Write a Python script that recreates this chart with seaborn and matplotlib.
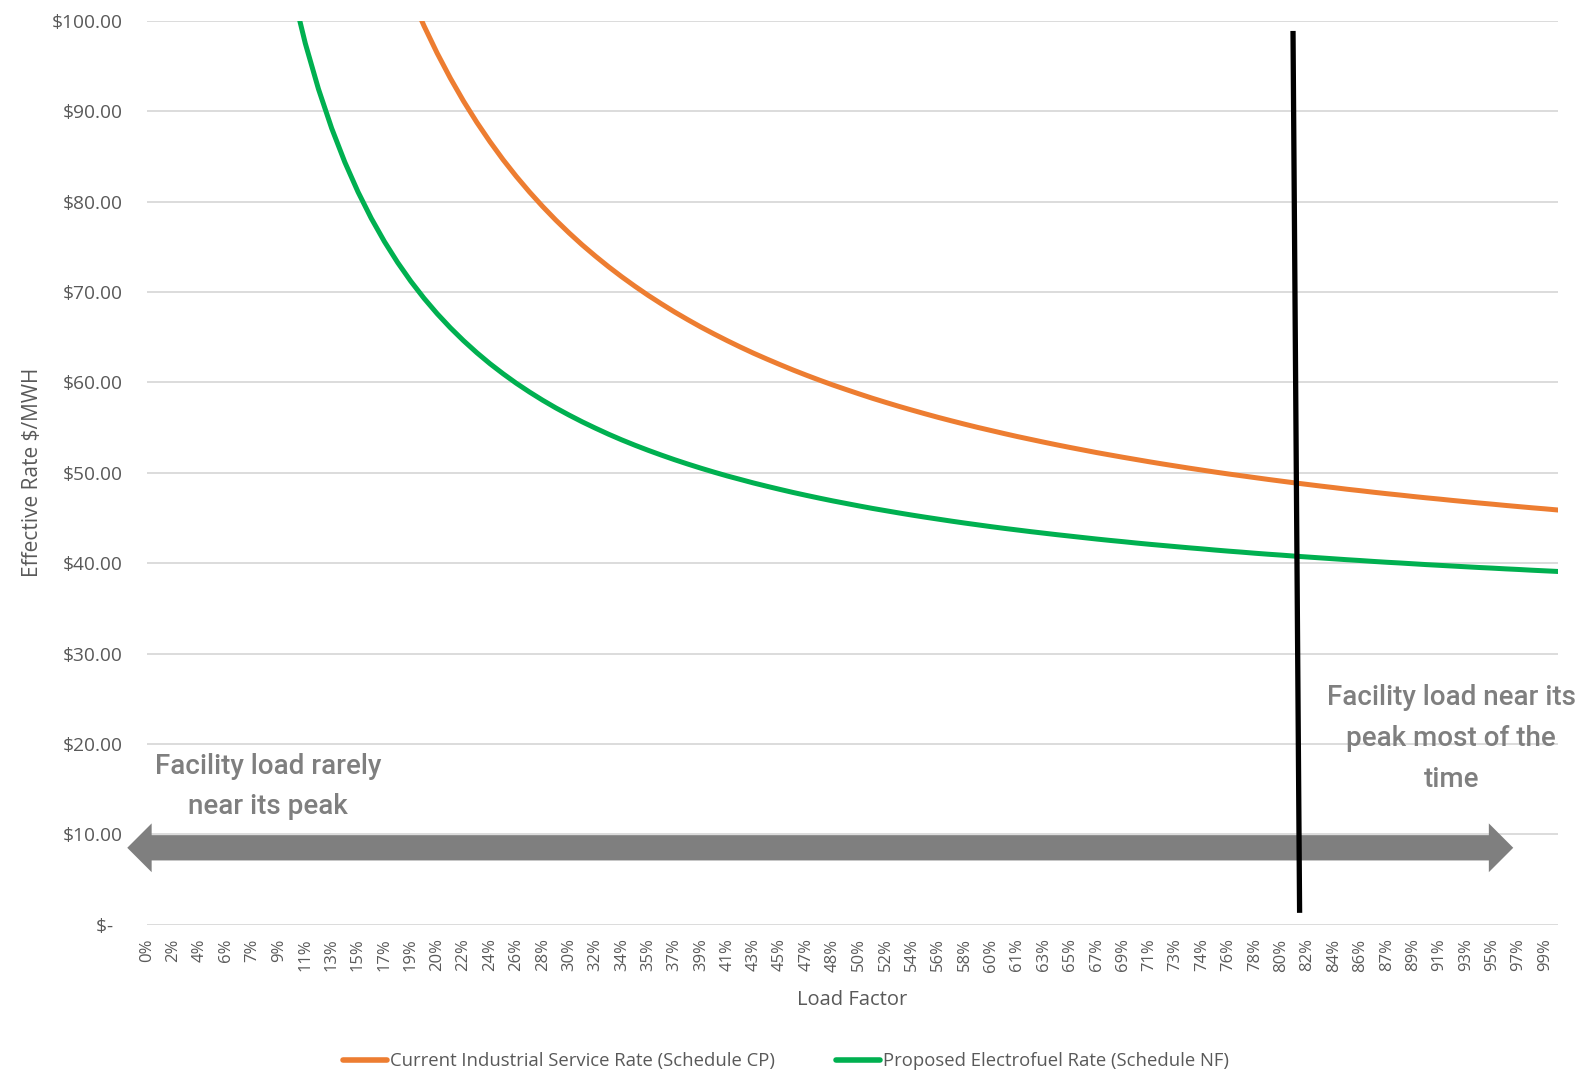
import numpy as np
import pandas as pd
import matplotlib
matplotlib.use('Agg')
import matplotlib.pyplot as plt
from matplotlib.patches import Polygon
from matplotlib.lines import Line2D
import seaborn as sns

# 부하율 카테고리 (108개, 짝수 번째만 축에 표시)
load_factor = [
    '0%', '1%', '2%', '3%', '4%', '5%', '6%', '7%', '7%', '8%',
    '9%', '10%', '11%', '12%', '13%', '14%', '15%', '16%', '17%', '18%',
    '19%', '20%', '20%', '21%', '22%', '23%', '24%', '25%', '26%', '27%',
    '28%', '29%', '30%', '31%', '32%', '33%', '34%', '34%', '35%', '36%',
    '37%', '38%', '39%', '40%', '41%', '42%', '43%', '44%', '45%', '46%',
    '47%', '47%', '48%', '49%', '50%', '51%', '52%', '53%', '54%', '55%',
    '56%', '57%', '58%', '59%', '60%', '60%', '61%', '62%', '63%', '64%',
    '65%', '66%', '67%', '68%', '69%', '70%', '71%', '72%', '73%', '73%',
    '74%', '75%', '76%', '77%', '78%', '79%', '80%', '81%', '82%', '83%',
    '84%', '85%', '86%', '86%', '87%', '88%', '89%', '90%', '91%', '92%',
    '93%', '94%', '95%', '96%', '97%', '98%', '99%', '100%',
]

# 요금 ($/MWH) - 그림에서 읽은 값, 축 범위 밖 구간은 None
current_rate = [None] * 13 + [
    140.49, 132.80, 126.13, 120.30, 115.15, 110.58, 106.48, 102.80, 99.47, 96.44,
    93.67, 91.13, 88.80, 86.65, 84.65, 82.80, 81.08, 79.47, 77.96, 76.55,
    75.22, 73.98, 72.80, 71.69, 70.64, 69.64, 68.70, 67.80, 66.95, 66.13,
    65.36, 64.62, 63.91, 63.23, 62.59, 61.97, 61.37, 60.80, 60.25, 59.72,
    59.22, 58.73, 58.25, 57.80, 57.36, 56.94, 56.53, 56.13, 55.75, 55.38,
    55.02, 54.68, 54.34, 54.01, 53.70, 53.39, 53.09, 52.80, 52.52, 52.24,
    51.98, 51.72, 51.47, 51.22, 50.98, 50.75, 50.52, 50.30, 50.08, 49.87,
    49.67, 49.47, 49.27, 49.08, 48.89, 48.71, 48.53, 48.36, 48.18, 48.02,
    47.85, 47.69, 47.54, 47.38, 47.23, 47.09, 46.94, 46.80, 46.66, 46.53,
    46.39, 46.26, 46.13, 46.01, 45.88,
]
proposed_rate = [None] * 7 + [
    144.56, 130.45, 119.48, 110.70, 103.52, 97.53, 92.47, 88.13, 84.37, 81.08,
    78.17, 75.59, 73.28, 71.20, 69.32, 67.61, 66.05, 64.62, 63.30, 62.08,
    60.96, 59.91, 58.94, 58.03, 57.18, 56.39, 55.64, 54.94, 54.27, 53.64,
    53.05, 52.49, 51.96, 51.45, 50.97, 50.51, 50.07, 49.65, 49.26, 48.87,
    48.51, 48.16, 47.82, 47.50, 47.19, 46.89, 46.61, 46.33, 46.06, 45.81,
    45.56, 45.32, 45.09, 44.87, 44.65, 44.44, 44.24, 44.04, 43.85, 43.67,
    43.49, 43.32, 43.15, 42.99, 42.83, 42.67, 42.52, 42.38, 42.23, 42.09,
    41.96, 41.83, 41.70, 41.58, 41.45, 41.33, 41.22, 41.10, 40.99, 40.89,
    40.78, 40.68, 40.58, 40.48, 40.38, 40.29, 40.19, 40.10, 40.02, 39.93,
    39.84, 39.76, 39.68, 39.60, 39.52, 39.45, 39.37, 39.30, 39.22, 39.15,
    39.08,
]
series_names = ['Current Industrial Service Rate (Schedule CP)',
                'Proposed Electrofuel Rate (Schedule NF)']
series_colors = ['#ED7D31', '#00B050']

rate_ticks = [0, 10, 20, 30, 40, 50, 60, 70, 80, 90, 100]
rate_tick_labels = ['$-  ', '$10.00', '$20.00', '$30.00', '$40.00', '$50.00',
                    '$60.00', '$70.00', '$80.00', '$90.00', '$100.00']

# 데이터프레임 구성
pos = np.arange(len(load_factor))
df = pd.DataFrame({
    'pos': np.concatenate([pos, pos]),
    'rate': pd.to_numeric(pd.Series(current_rate + proposed_rate), errors='coerce'),
    'series': [series_names[0]] * len(pos) + [series_names[1]] * len(pos),
})

sns.set_style('white')
plt.rcParams['font.family'] = ['Open Sans', 'DejaVu Sans']
text_gray = '#595959'

fig = plt.figure(figsize=(15.81, 10.71), dpi=100)
ax = fig.add_axes([0.0930, 0.1367, 0.8925, 0.8437])

sns.lineplot(data=df, x='pos', y='rate', hue='series', hue_order=series_names,
             palette=series_colors, linewidth=3.6, ax=ax, legend=False, zorder=3)

ax.set_xlim(0, len(pos) - 1)
ax.set_ylim(0, 100)
ax.set_yticks(rate_ticks)
ax.set_yticklabels(rate_tick_labels, color=text_gray, fontsize=13.8)
ax.set_xticks(pos[::2])
ax.set_xticklabels(load_factor[::2], rotation=90, color=text_gray, fontsize=12)
ax.tick_params(axis='both', length=0)
ax.tick_params(axis='y', pad=17.5)
ax.tick_params(axis='x', pad=10)

ax.grid(axis='y', color='#D9D9D9', linewidth=1.3)
ax.grid(axis='x', visible=False)
for s in ax.spines.values():
    s.set_visible(False)

ax.set_xlabel('Load Factor', color=text_gray, fontsize=14.5, va='center')
ax.xaxis.set_label_coords(0.5, -0.084)
ax.set_ylabel('Effective Rate $/MWH', color=text_gray, fontsize=15, va='center')
ax.yaxis.set_label_coords(-0.081, 0.5)

# 부하율 범위를 나타내는 양방향 화살표 (하나의 다각형)
arrow_gray = '#7F7F7F'
xl, xr, yc = -1.5, 103.6, 8.5       # 왼쪽/오른쪽 끝, 중심 높이
hl, hw, sw = 1.85, 2.7, 1.4          # 머리 길이, 머리 반폭, 몸통 반폭
arrow_pts = [(xl, yc), (xl + hl, yc + hw), (xl + hl, yc + sw), (xr - hl, yc + sw),
             (xr - hl, yc + hw), (xr, yc), (xr - hl, yc - hw), (xr - hl, yc - sw),
             (xl + hl, yc - sw), (xl + hl, yc - hw)]
ax.add_patch(Polygon(arrow_pts, closed=True, fc=arrow_gray, ec='none',
                     clip_on=False, zorder=4))

# 기준선 (수직선)
ax.plot([86.9, 87.4], [98.9, 1.3], color='black', linewidth=3.8,
        solid_capstyle='butt', zorder=5)

note_font = dict(fontsize=20, color=arrow_gray, family=['Roboto', 'DejaVu Sans'],
                 fontweight='medium', linespacing=1.65, ha='center', va='center',
                 zorder=6)
ax.text(9.2, 15.3, 'Facility load rarely\nnear its peak', **note_font)
ax.text(98.9, 20.6, 'Facility load near its\npeak most of the\ntime', **note_font)

handles = [Line2D([0], [0], color=c, linewidth=4) for c in series_colors]
fig.legend(handles, series_names, loc='center', bbox_to_anchor=(0.497, 0.0093),
           ncol=2, frameon=False, fontsize=13.3, handlelength=2.4,
           handletextpad=0.15, columnspacing=3.3, labelcolor=text_gray)

plt.savefig('out.png', dpi=100)
